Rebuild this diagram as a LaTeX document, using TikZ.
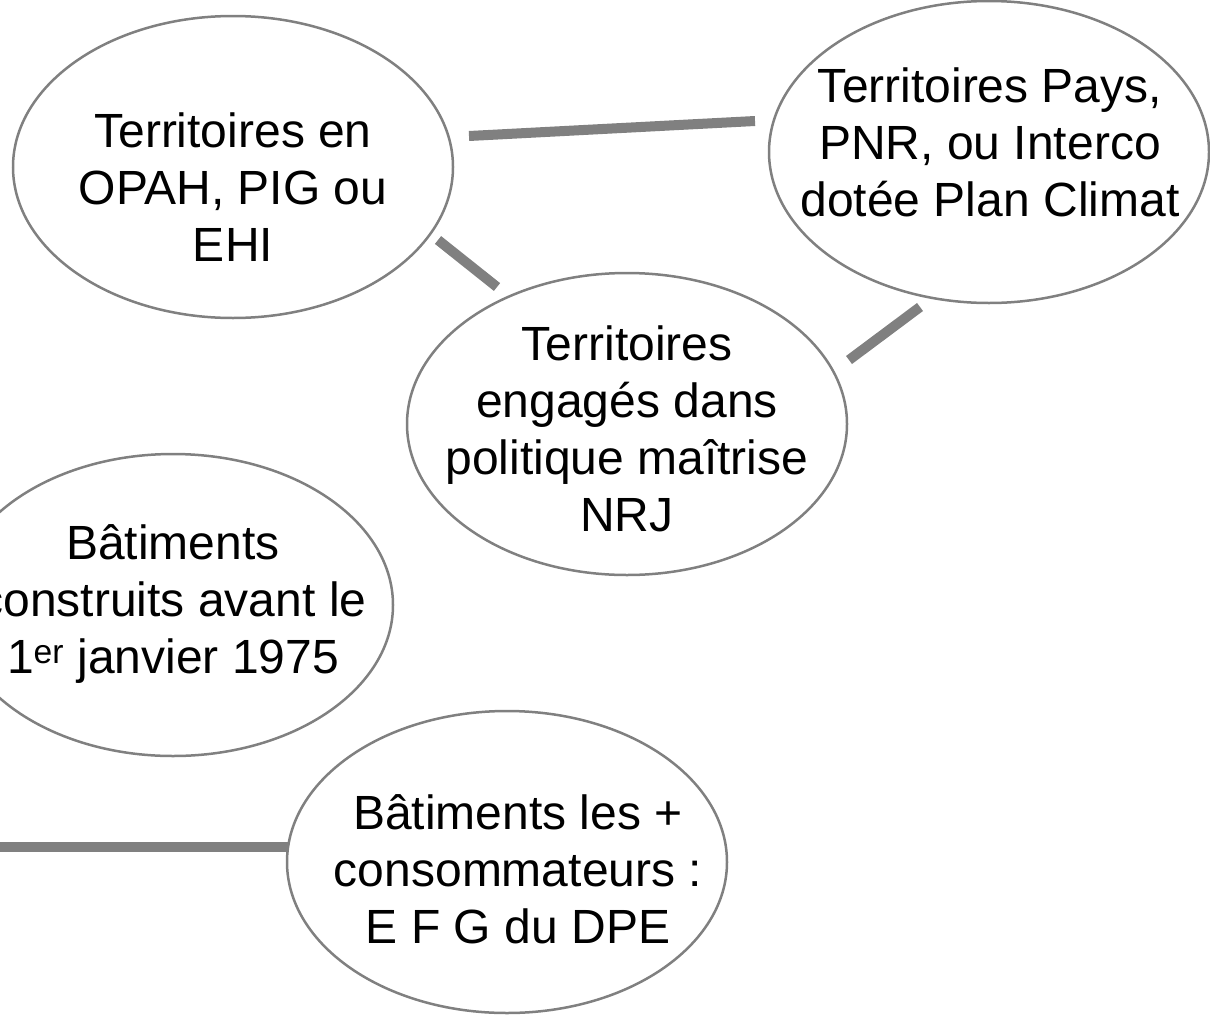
\documentclass[tikz,border=0pt]{standalone}
\usepackage{fontspec}
\setmainfont{Liberation Sans}
\usetikzlibrary{shapes.geometric}
\definecolor{linegray}{RGB}{128,128,128}
\begin{document}
\begin{tikzpicture}[x=1pt,y=-1pt,
  bubble/.style={ellipse, draw=linegray, line width=2.5pt, fill=white,
    minimum width=440pt, minimum height=302pt, inner sep=0pt},
  bubbletext/.style={align=center, inner sep=0pt, text=black,
    font=\fontsize{48}{57}\selectfont},
  link/.style={draw=linegray, line width=10pt}]
\useasboundingbox (0,0) rectangle (1210,1023);
% ellipses
\node[bubble] (e1) at (233,167) {};
\node[bubble] (e2) at (989,152) {};
\node[bubble] (e3) at (627,424) {};
\node[bubble] (e4) at (173,605) {};
\node[bubble] (e5) at (507,862) {};
% texts
\node[bubbletext] (t1) at (233,187.5) {Territoires en\\OPAH, PIG ou\\EHI};
\node[bubbletext] (t2) at (990,142.5) {Territoires Pays,\\PNR, ou Interco\\dotée Plan Climat};
\node[bubbletext] (t3) at (627,429) {Territoires\\engagés dans\\politique maîtrise\\NRJ};
\node[bubbletext] (t4) at (173,603.5) {Bâtiments\\construits avant le\\1\textsuperscript{er} janvier 1975};
\node[bubbletext] (t5) at (518,869.5) {Bâtiments les +\\consommateurs :\\E F G du DPE};
% connector ends
\coordinate (l1a) at (469,136);
\coordinate (l1b) at (755,121);
\coordinate (l2a) at (438,240);
\coordinate (l2b) at (497,287);
\coordinate (l3a) at (920,307);
\coordinate (l3b) at (849,360);
\coordinate (l4a) at (-5,847);
\coordinate (l4b) at (288,847);
\draw[link] (l1a) -- (l1b);
\draw[link] (l2a) -- (l2b);
\draw[link] (l3a) -- (l3b);
\draw[link] (l4a) -- (l4b);
\end{tikzpicture}
\end{document}
